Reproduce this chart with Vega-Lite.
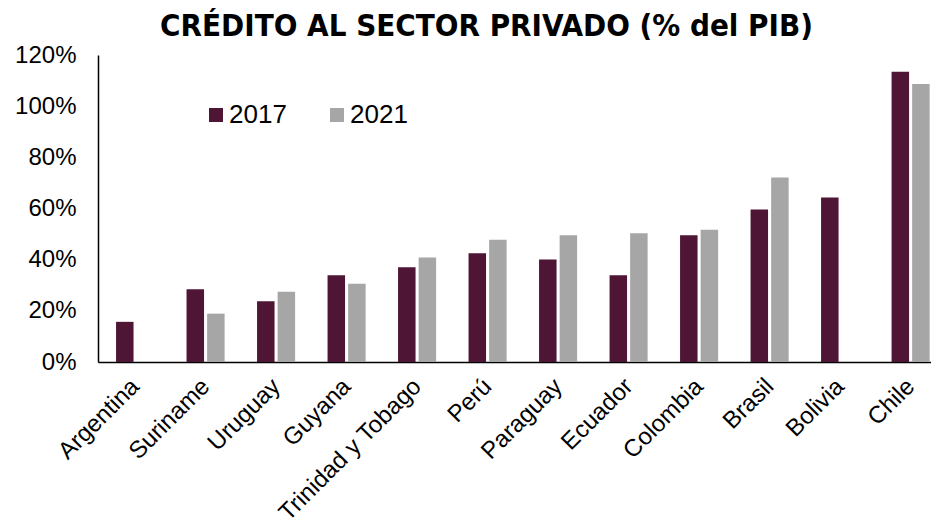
{
  "$schema": "https://vega.github.io/schema/vega-lite/v6.json",
  "width": 833,
  "height": 307,
  "autosize": {"type": "none"},
  "padding": {"left": 98, "top": 55, "right": 0, "bottom": 163},
  "background": "white",
  "config": {"view": {"stroke": null}},
  "title": {
    "text": "CRÉDITO AL SECTOR PRIVADO  (% del PIB)",
    "font": "DejaVu Sans Condensed",
    "fontSize": 31,
    "fontWeight": "bold",
    "color": "#000000",
    "anchor": "middle",
    "frame": "group",
    "dx": -28,
    "baseline": "alphabetic",
    "offset": -24
  },
  "data": {
    "values": [
      {"country": "Argentina", "year": "2017", "value": 0.157},
      {"country": "Suriname", "year": "2017", "value": 0.284},
      {"country": "Suriname", "year": "2021", "value": 0.189},
      {"country": "Uruguay", "year": "2017", "value": 0.237},
      {"country": "Uruguay", "year": "2021", "value": 0.275},
      {"country": "Guyana", "year": "2017", "value": 0.339},
      {"country": "Guyana", "year": "2021", "value": 0.306},
      {"country": "Trinidad y Tobago", "year": "2017", "value": 0.370},
      {"country": "Trinidad y Tobago", "year": "2021", "value": 0.408},
      {"country": "Perú", "year": "2017", "value": 0.425},
      {"country": "Perú", "year": "2021", "value": 0.478},
      {"country": "Paraguay", "year": "2017", "value": 0.401},
      {"country": "Paraguay", "year": "2021", "value": 0.495},
      {"country": "Ecuador", "year": "2017", "value": 0.339},
      {"country": "Ecuador", "year": "2021", "value": 0.503},
      {"country": "Colombia", "year": "2017", "value": 0.495},
      {"country": "Colombia", "year": "2021", "value": 0.517},
      {"country": "Brasil", "year": "2017", "value": 0.596},
      {"country": "Brasil", "year": "2021", "value": 0.721},
      {"country": "Bolivia", "year": "2017", "value": 0.643},
      {"country": "Chile", "year": "2017", "value": 1.135},
      {"country": "Chile", "year": "2021", "value": 1.087}
    ]
  },
  "mark": {"type": "bar"},
  "encoding": {
    "x": {
      "field": "country",
      "type": "nominal",
      "sort": null,
      "scale": {"paddingInner": 0.46, "paddingOuter": 0.1376, "align": 0.93},
      "axis": {
        "title": null,
        "labelAngle": -45,
        "labelFont": "Liberation Sans",
        "labelFontSize": 24,
        "labelColor": "#000000",
        "labelPadding": 12,
        "labelOffset": -8,
        "labelLimit": 0,
        "ticks": false,
        "domainColor": "#000000",
        "domainWidth": 1.5,
        "labelOverlap": false
      }
    },
    "xOffset": {
      "field": "year",
      "type": "nominal",
      "scale": {"paddingInner": 0.15, "paddingOuter": 0}
    },
    "y": {
      "field": "value",
      "type": "quantitative",
      "scale": {"domain": [0, 1.2], "nice": false},
      "axis": {
        "title": null,
        "values": [0, 0.2, 0.4, 0.6, 0.8, 1.0, 1.2],
        "format": ".0%",
        "grid": false,
        "ticks": false,
        "labelFont": "Liberation Sans",
        "labelFontSize": 24,
        "labelColor": "#000000",
        "labelPadding": 22,
        "domainColor": "#000000",
        "domainWidth": 1.5
      }
    },
    "color": {
      "field": "year",
      "type": "nominal",
      "scale": {"domain": ["2017", "2021"], "range": ["#4E1535", "#A6A6A6"]},
      "legend": {
        "title": null,
        "orient": "none",
        "legendX": 105,
        "legendY": 47,
        "direction": "horizontal",
        "columns": 2,
        "symbolType": "square",
        "symbolSize": 196,
        "symbolStrokeWidth": 0,
        "labelFont": "Liberation Sans",
        "labelFontSize": 26,
        "labelColor": "#000000",
        "labelOffset": 0,
        "columnPadding": 37,
        "padding": 0
      }
    }
  }
}
